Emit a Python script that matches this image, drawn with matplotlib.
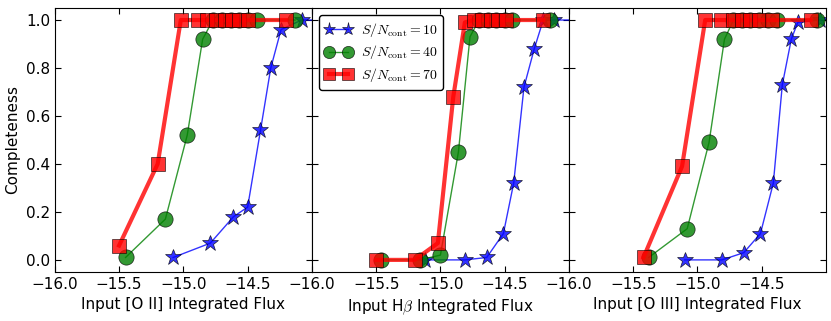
import matplotlib
matplotlib.use("Agg")
import matplotlib.pyplot as plt

plt.rcParams['mathtext.fontset'] = 'cm'
plt.rcParams['font.size'] = 11
plt.rcParams['xtick.direction'] = 'in'
plt.rcParams['ytick.direction'] = 'in'
plt.rcParams['xtick.top'] = True
plt.rcParams['ytick.right'] = True
plt.rcParams['xtick.major.size'] = 4
plt.rcParams['ytick.major.size'] = 4

# [O II]
oii_sn10_x = [-15.08, -14.79, -14.61, -14.50, -14.40, -14.32, -14.24, -14.08, -13.90]
oii_sn10_y = [0.01, 0.07, 0.18, 0.22, 0.54, 0.80, 0.96, 1.0, 1.0]
oii_sn40_x = [-15.45, -15.14, -14.97, -14.85, -14.77, -14.70, -14.63, -14.57, -14.50, -14.43, -14.13]
oii_sn40_y = [0.01, 0.17, 0.52, 0.92, 1.0, 1.0, 1.0, 1.0, 1.0, 1.0, 1.0]
oii_sn70_x = [-15.50, -15.20, -15.02, -14.89, -14.82, -14.75, -14.68, -14.62, -14.57, -14.50, -14.20]
oii_sn70_y = [0.06, 0.40, 1.0, 1.0, 1.0, 1.0, 1.0, 1.0, 1.0, 1.0, 1.0]

# H-beta
hb_sn10_x = [-15.12, -14.81, -14.64, -14.51, -14.43, -14.35, -14.27, -14.20, -14.12, -13.90]
hb_sn10_y = [0.0, 0.0, 0.01, 0.11, 0.32, 0.72, 0.88, 1.0, 1.0, 1.0]
hb_sn40_x = [-15.46, -15.16, -15.00, -14.86, -14.77, -14.70, -14.63, -14.57, -14.50, -14.44, -14.15]
hb_sn40_y = [0.0, 0.0, 0.02, 0.45, 0.93, 1.0, 1.0, 1.0, 1.0, 1.0, 1.0]
hb_sn70_x = [-15.50, -15.20, -15.02, -14.90, -14.81, -14.74, -14.68, -14.61, -14.55, -14.49, -14.20]
hb_sn70_y = [0.0, 0.0, 0.07, 0.68, 0.99, 1.0, 1.0, 1.0, 1.0, 1.0, 1.0]

# [O III]
oiii_sn10_x = [-15.10, -14.81, -14.64, -14.51, -14.41, -14.34, -14.27, -14.22, -14.05]
oiii_sn10_y = [0.0, 0.0, 0.03, 0.11, 0.32, 0.73, 0.92, 0.99, 1.0]
oiii_sn40_x = [-15.38, -15.08, -14.91, -14.79, -14.72, -14.65, -14.59, -14.52, -14.45, -14.38, -14.07]
oiii_sn40_y = [0.01, 0.13, 0.49, 0.92, 1.0, 1.0, 1.0, 1.0, 1.0, 1.0, 1.0]
oiii_sn70_x = [-15.42, -15.12, -14.94, -14.82, -14.72, -14.65, -14.59, -14.52, -14.42, -14.12]
oiii_sn70_y = [0.01, 0.39, 1.0, 1.0, 1.0, 1.0, 1.0, 1.0, 1.0, 1.0]

panels = [
    ('Input [O II] Integrated Flux', oii_sn10_x, oii_sn10_y, oii_sn40_x, oii_sn40_y, oii_sn70_x, oii_sn70_y),
    (r'Input H$\beta$ Integrated Flux', hb_sn10_x, hb_sn10_y, hb_sn40_x, hb_sn40_y, hb_sn70_x, hb_sn70_y),
    ('Input [O III] Integrated Flux', oiii_sn10_x, oiii_sn10_y, oiii_sn40_x, oiii_sn40_y, oiii_sn70_x, oiii_sn70_y),
]

fig, axes = plt.subplots(1, 3, figsize=(8.31, 3.21), dpi=100, sharey=True)
fig.subplots_adjust(left=0.066, right=0.994, top=0.975, bottom=0.153, wspace=0)

for ax, (xlabel, x10, y10, x40, y40, x70, y70) in zip(axes, panels):
    ax.plot(x10, y10, '-*', color='b', lw=1, ms=12, alpha=0.8, mec='k', mew=0.5,
            label=r'$S/N_{\rm cont}=10$')
    ax.plot(x40, y40, '-o', color='g', lw=1, ms=11, alpha=0.8, mec='k', mew=0.5,
            label=r'$S/N_{\rm cont}=40$')
    ax.plot(x70, y70, '-s', color='r', lw=3, ms=10, alpha=0.8, mec='k', mew=0.5,
            label=r'$S/N_{\rm cont}=70$')
    ax.set_xlim(-16.0, -14.0)
    ax.set_ylim(-0.05, 1.05)
    ax.set_xticks([-16.0, -15.5, -15.0, -14.5])
    ax.set_yticks([0.0, 0.2, 0.4, 0.6, 0.8, 1.0])
    ax.set_xlabel(xlabel)

axes[0].set_ylabel('Completeness')
leg = axes[1].legend(loc='upper left', numpoints=2, fontsize=10, fancybox=True,
                     framealpha=1, edgecolor='k', borderaxespad=0.5,
                     markerscale=0.8, handlelength=2.0, handletextpad=0.6,
                     borderpad=0.4, labelspacing=0.35)
leg.get_frame().set_linewidth(1)

fig.savefig('out.png', dpi=100)
